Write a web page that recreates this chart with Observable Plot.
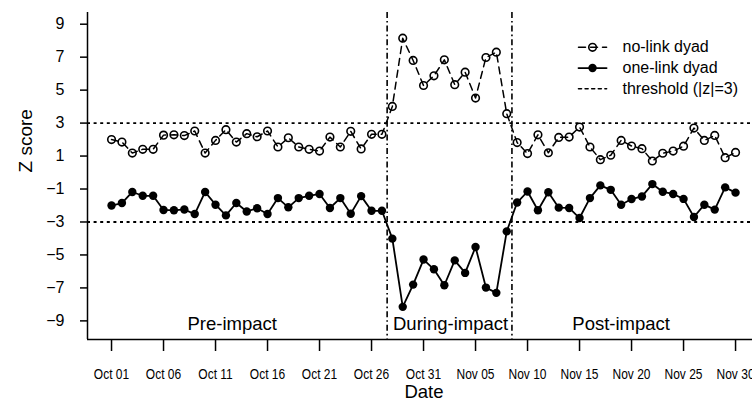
<!DOCTYPE html>
<html><head><meta charset="utf-8">
<script src="https://cdn.jsdelivr.net/npm/d3@7"></script>
<script src="https://cdn.jsdelivr.net/npm/@observablehq/plot@0.6"></script>
<style>body{margin:0;background:#fff}</style>
</head><body><div id="chart"></div>
<script>
// Days are counted from Oct 01 (day 0) to Nov 30 (day 60)
const startYear = 2019, startMonth = 9, startDay = 1;
const noLink = [2.00,1.85,1.18,1.41,1.41,2.27,2.29,2.24,2.52,1.18,1.95,2.60,1.85,2.36,2.17,2.52,1.55,2.11,1.55,1.41,1.30,2.15,1.55,2.50,1.43,2.32,2.32,
  4.01,8.15,6.80,5.28,5.87,6.84,5.33,6.09,4.52,6.98,7.30,3.57,
  1.82,1.15,2.29,1.20,2.13,2.15,2.76,1.55,0.78,1.05,1.95,1.61,1.45,0.70,1.17,1.30,1.60,2.70,1.95,2.25,0.90,1.22];
const oneLink = [-2.00,-1.85,-1.18,-1.41,-1.41,-2.27,-2.29,-2.24,-2.52,-1.18,-1.95,-2.60,-1.85,-2.36,-2.17,-2.52,-1.55,-2.11,-1.55,-1.41,-1.30,-2.15,-1.55,-2.50,-1.43,-2.32,-2.32,
  -4.01,-8.15,-6.80,-5.28,-5.87,-6.84,-5.33,-6.09,-4.52,-6.98,-7.30,-3.57,
  -1.82,-1.15,-2.29,-1.20,-2.13,-2.15,-2.76,-1.55,-0.78,-1.05,-1.95,-1.61,-1.45,-0.70,-1.17,-1.30,-1.60,-2.70,-1.95,-2.25,-0.90,-1.22];
const xTickDays = [0,5,10,15,20,25,30,35,40,45,50,55,60];
const xTickLabels = ["Oct 01","Oct 06","Oct 11","Oct 16","Oct 21","Oct 26","Oct 31","Nov 05","Nov 10","Nov 15","Nov 20","Nov 25","Nov 30"];
const yTicks = [9,7,5,3,1,-1,-3,-5,-7,-9];
const thresholds = [3,-3];
const phaseBounds = [26.5, 38.5];
const phaseLabels = ["Pre-impact","During-impact","Post-impact"];
const phaseLabelDays = [11.6, 32.6, 49.0];
const seriesNames = ["no-link dyad","one-link dyad","threshold (|z|=3)"];

const t0 = Date.UTC(startYear, startMonth, startDay);
const day = d => new Date(t0 + d * 864e5);
const data = noLink.map((v, i) => ({date: day(i), noLink: v, oneLink: oneLink[i]}));
const xMin = day(-2.31), xMax = day(61.63);
const yMin = -10.13, yMax = 9.71;

// legend layout (in data units)
const legX1 = day(44.9), legX2 = day(47.6), legXc = day(46.25), legXt = day(49.13);
const legY = [7.6, 6.34, 5.08];

const chart = Plot.plot({
  width: 752, height: 406,
  marginLeft: 87, marginRight: 0, marginTop: 12, marginBottom: 67,
  x: {type: "utc", domain: [xMin, xMax]},
  y: {domain: [yMin, yMax]},
  style: {fontFamily: "'Liberation Sans', Arial, sans-serif", background: "white", color: "black"},
  marks: [
    Plot.ruleY(thresholds, {stroke: "black", strokeWidth: 1.8, strokeDasharray: "3,3.6"}),
    Plot.ruleX(phaseBounds.map(day), {stroke: "black", strokeWidth: 1.6, strokeDasharray: "6,3,1.6,3"}),
    Plot.line(data, {x: "date", y: "noLink", stroke: "black", strokeWidth: 1.5, strokeDasharray: "7,5"}),
    Plot.dot(data, {x: "date", y: "noLink", r: 3.8, stroke: "black", strokeWidth: 1.6, fill: "none"}),
    Plot.line(data, {x: "date", y: "oneLink", stroke: "black", strokeWidth: 1.8}),
    Plot.dot(data, {x: "date", y: "oneLink", r: 4.2, fill: "black", stroke: "none"}),
    Plot.text(phaseLabels, {x: (d, i) => day(phaseLabelDays[i]), y: -9.18, fontSize: 18.5, fill: "black"}),
    // legend
    Plot.line([{x: legX1, y: legY[0]}, {x: legX2, y: legY[0]}], {x: "x", y: "y", stroke: "black", strokeWidth: 1.5, strokeDasharray: "7,5"}),
    Plot.dot([{x: legXc, y: legY[0]}], {x: "x", y: "y", r: 3.8, stroke: "black", strokeWidth: 1.6, fill: "none"}),
    Plot.line([{x: legX1, y: legY[1]}, {x: legX2, y: legY[1]}], {x: "x", y: "y", stroke: "black", strokeWidth: 1.8}),
    Plot.dot([{x: legXc, y: legY[1]}], {x: "x", y: "y", r: 4.2, fill: "black"}),
    Plot.line([{x: legX1, y: legY[2]}, {x: legX2, y: legY[2]}], {x: "x", y: "y", stroke: "black", strokeWidth: 1.6, strokeDasharray: "3,3.6"}),
    Plot.text(seriesNames, {x: legXt, y: (d, i) => legY[i], textAnchor: "start", fontSize: 16, fill: "black"}),
    // axes
    Plot.ruleY([yMin], {stroke: "black", strokeWidth: 1.5}),
    Plot.ruleX([xMin], {stroke: "black", strokeWidth: 1.5}),
    Plot.axisX({ticks: xTickDays.map(day), tickFormat: d => xTickLabels[xTickDays.indexOf(Math.round((d - t0) / 864e5))],
      tickSize: 12, tickPadding: 17, fontSize: 15, strokeWidth: 1.5, label: null, fill: "black", stroke: "black"}),
    Plot.axisY({ticks: yTicks, tickSize: 7, tickPadding: 16, fontSize: 16, strokeWidth: 1.5, label: null, fill: "black", stroke: "black"}),
    Plot.text(["Z score"], {frameAnchor: "left", dx: -62, dy: -3.5, rotate: -90, fontSize: 19, fill: "black"}),
    Plot.text(["Date"], {frameAnchor: "bottom", dx: 4, dy: 58.7, fontSize: 18.5, fill: "black"})
  ]
});
document.getElementById("chart").appendChild(chart);
// condense x tick labels horizontally
chart.querySelectorAll('[aria-label="x-axis tick label"] text').forEach(t => {
  const tr = t.getAttribute("transform");
  if (tr) t.setAttribute("transform", tr + " scale(0.8,1)");
  else {
    const x = +(t.getAttribute("x") || 0), y = +(t.getAttribute("y") || 0);
    t.removeAttribute("x"); t.removeAttribute("y");
    t.setAttribute("transform", `translate(${x},${y}) scale(0.8,1)`);
  }
});
</script>
</body></html>
